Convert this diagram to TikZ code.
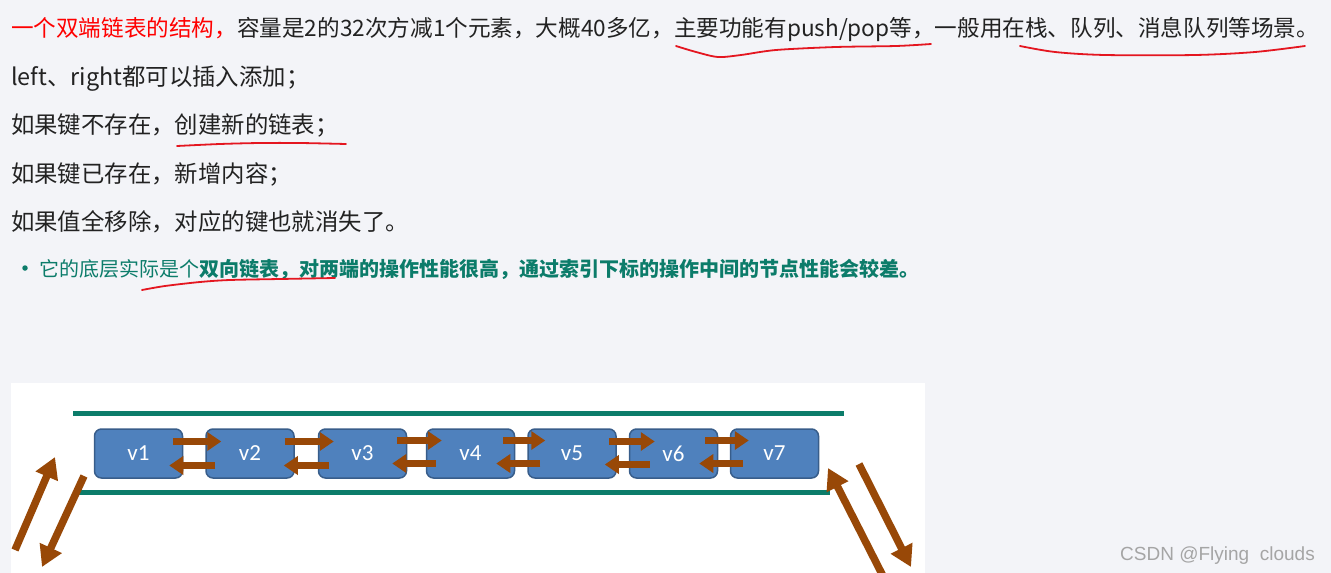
\documentclass[tikz,border=0pt]{standalone}
\usepackage{fontspec}
\setmainfont{Noto Sans CJK SC}
\newfontfamily\vfont{Carlito}
\newfontfamily\wmfont{Liberation Sans}
\usepackage{tikz}
\usetikzlibrary{positioning}
\usetikzlibrary{arrows.meta}

\definecolor{bgcol}{RGB}{243,244,248}
\definecolor{txtcol}{RGB}{34,34,34}
\definecolor{redcol}{RGB}{255,0,0}
\definecolor{inkred}{RGB}{228,22,32}
\definecolor{tealcol}{RGB}{12,124,106}
\definecolor{vfill}{RGB}{79,129,189}
\definecolor{vedge}{RGB}{56,93,138}
\definecolor{arrcol}{RGB}{152,72,7}
\definecolor{wmcol}{RGB}{165,165,165}

\begin{document}
\begin{tikzpicture}	[
		x=1pt, y=-1pt,
		txt/.style={anchor=base west, inner sep=0, text=txtcol, font=\fontsize{23.4}{28}\selectfont},
		vbox/.style={draw=vedge, fill=vfill, line width=1.5pt, rounded corners=7pt, minimum width=88pt, minimum height=49pt, inner sep=0, text=white, font=\vfont\fontsize{23}{23}\selectfont},
		fwd/.style={draw=arrcol, line width=6.5pt, -{Triangle[width=18pt,length=14pt]}},
		diag/.style={draw=arrcol, line width=7.5pt, -{Triangle[width=23pt,length=21pt]}},
		ink/.style={draw=inkred, line width=1.8pt, line cap=round}
	]
		\useasboundingbox (0,0) rectangle (1331,573);
		\fill[bgcol] (0,0) rectangle (1331,573);
		\fill[white] (11,383) rectangle (925,573);

		% text lines
		\node[txt, font=\fontsize{22.6}{28}\selectfont] (l1) at (11,36) {{\color{redcol}一个双端链表的结构，}容量是2的32次方减1个元素，大概40多亿，主要功能有push/pop等，一般用在栈、队列、消息队列等场景。};
		\node[txt] (l2) at (11,85) {left、right都可以插入添加；};
		\node[txt] (l3) at (11,133) {如果键不存在，创建新的链表；};
		\node[txt] (l4) at (11,182) {如果键已存在，新增内容；};
		\node[txt] (l5) at (11,230) {如果值全移除，对应的键也就消失了。};
		\node[circle, fill=tealcol, inner sep=0, minimum size=5.5pt] (dot) at (25,268) {};
		\node[txt, text=tealcol, font=\fontsize{20}{24}\selectfont] (l6) at (39,276) {它的底层实际是个\textbf{双向链表，对两端的操作性能很高，通过索引下标的操作中间的节点性能会较差。}};

		% red pen marks
		\draw[ink] plot[smooth] coordinates {(676,46) (696,52) (718,57) (741,55) (776,50) (836,47) (896,46) (931,44)};
		\draw[ink] plot[smooth] coordinates {(1020,46) (1055,52) (1105,55) (1195,55) (1255,52) (1305,46)};
		\draw[ink] plot[smooth] coordinates {(177,146) (220,144) (260,143) (300,143) (346,144)};
		\draw[ink] plot[smooth] coordinates {(142,290) (165,286) (200,282) (230,280) (280,279) (335,278)};

		% list
		\draw[tealcol, line width=5pt]
			(73,413.5) -- (844,413.5)
			(79,492) -- (830,492)
		;
		\path
			(138.5,453.5) node[vbox](v1){v1}
			(250,453.5) node[vbox](v2){v2}
			(362.5,453.5) node[vbox](v3){v3}
			(470.5,453.5) node[vbox](v4){v4}
			(572,453.5) node[vbox](v5){v5}
			(673.5,453.5) node[vbox](v6){v6}
			(774.5,453.5) node[vbox](v7){v7}
		;
		\draw[fwd] ([xshift=-10pt,yshift=12pt]v1.east) -- ([xshift=16pt,yshift=12pt]v2.west);
		\draw[fwd] ([xshift=-10pt,yshift=12pt]v2.east) -- ([xshift=16pt,yshift=12pt]v3.west);
		\draw[fwd] ([xshift=-10pt,yshift=13pt]v3.east) -- ([xshift=16pt,yshift=13pt]v4.west);
		\draw[fwd] ([xshift=-12pt,yshift=13pt]v4.east) -- ([xshift=18pt,yshift=13pt]v5.west);
		\draw[fwd] ([xshift=-8pt,yshift=12pt]v5.east) -- ([xshift=26pt,yshift=12pt]v6.west);
		\draw[fwd] ([xshift=-13pt,yshift=13pt]v6.east) -- ([xshift=19pt,yshift=13pt]v7.west);
		\draw[fwd] ([xshift=10pt,yshift=-12pt]v2.west) -- ([xshift=-14pt,yshift=-12pt]v1.east);
		\draw[fwd] ([xshift=11pt,yshift=-12pt]v3.west) -- ([xshift=-11pt,yshift=-12pt]v2.east);
		\draw[fwd] ([xshift=10pt,yshift=-10pt]v4.west) -- ([xshift=-15pt,yshift=-10pt]v3.east);
		\draw[fwd] ([xshift=13pt,yshift=-10pt]v5.west) -- ([xshift=-19pt,yshift=-10pt]v4.east);
		\draw[fwd] ([xshift=21pt,yshift=-11pt]v6.west) -- ([xshift=-12pt,yshift=-11pt]v5.east);
		\draw[fwd] ([xshift=13pt,yshift=-10pt]v7.west) -- ([xshift=-19pt,yshift=-10pt]v6.east);

		% ends in and out
		\coordinate (inL) at (15,550);
		\coordinate (inLtip) at (55,457);
		\coordinate (outL) at (84,476);
		\coordinate (outLtip) at (42,567);
		\coordinate (inR) at (884,578);
		\coordinate (inRtip) at (828,468);
		\coordinate (outR) at (859,464);
		\coordinate (outRtip) at (911,567);
		\draw[diag] (inL) -- (inLtip);
		\draw[diag] (outL) -- (outLtip);
		\draw[diag] (inR) -- (inRtip);
		\draw[diag] (outR) -- (outRtip);

		\node[anchor=base east, inner sep=0, text=wmcol, font=\wmfont\fontsize{19}{19}\selectfont] (wm) at (1315,560) {CSDN @Flying\ \ clouds};
	\end{tikzpicture}
\end{document}
